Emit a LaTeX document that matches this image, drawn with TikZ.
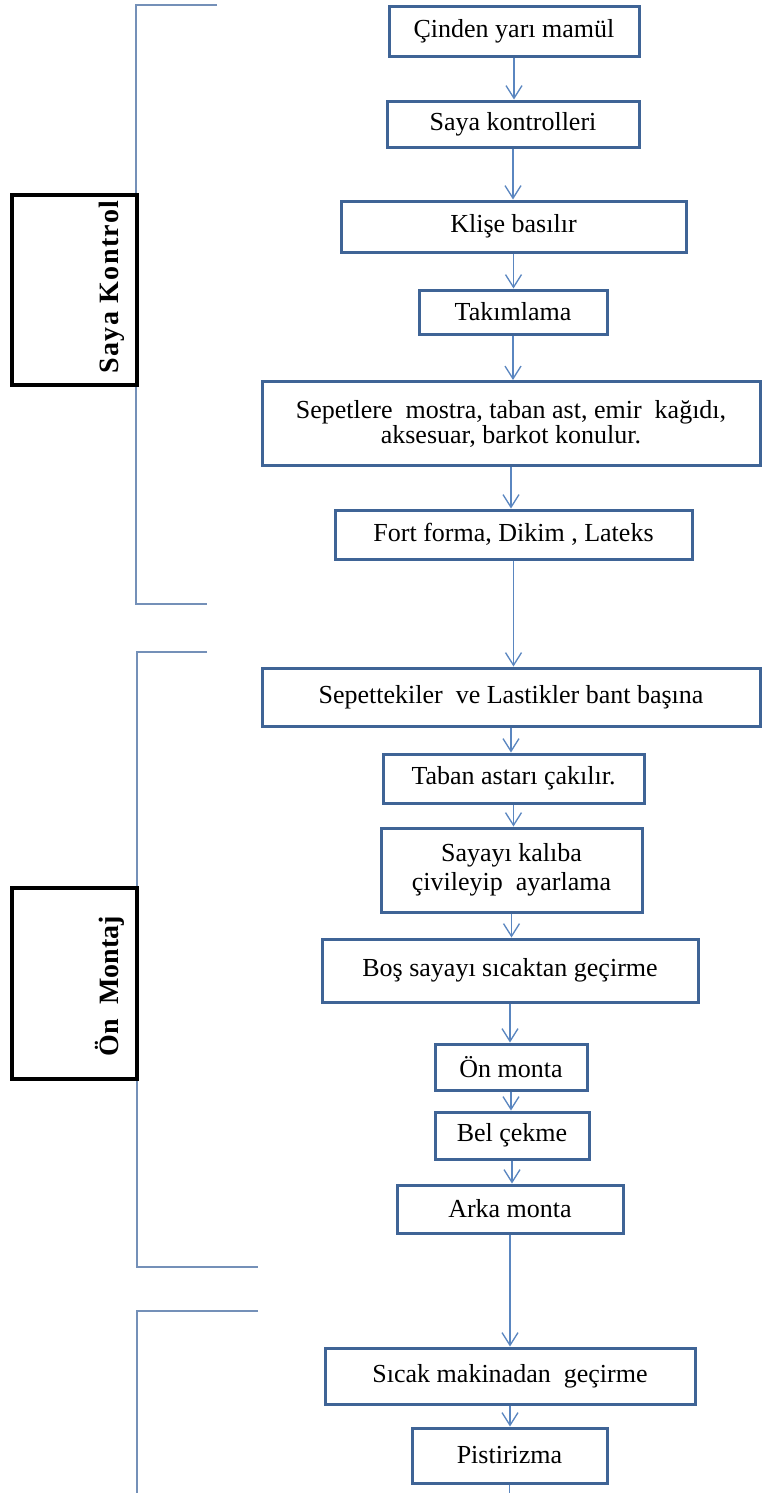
\documentclass[tikz,border=0pt]{standalone}
\usepackage{fontspec}
\setmainfont{Liberation Serif}
\usetikzlibrary{arrows.meta}
\definecolor{boxc}{HTML}{3F6496}
\definecolor{arrc}{HTML}{5A86C0}
\definecolor{brkc}{HTML}{7490B8}
\tikzset{
  proc/.style={draw=boxc, line width=2.25pt, fill=white, inner sep=0pt, align=center,
    font=\fontsize{19.5}{22}\selectfont},
  flow/.style={draw=arrc, line width=1pt, -{Straight Barb[length=9.5pt,width=12pt,line width=1pt]}},
  flowline/.style={draw=arrc, line width=1pt},
  brk/.style={draw=brkc, line width=1.6pt},
  lblbox/.style={draw=black, line width=2.4pt, fill=white, inner sep=0pt,
    minimum width=93.75pt},
  lbltext/.style={rotate=90, inner sep=0pt, font=\fontsize{21}{24}\selectfont\bfseries}
}
\begin{document}
\begin{tikzpicture}[x=0.75pt, y=-0.75pt]
\useasboundingbox (0,0) rectangle (762,1493);

% brackets
\draw[brk] (217,5) -- (136,5) -- (136,604) -- (207,604);
\draw[brk] (207,652) -- (137,652) -- (137,1267) -- (258,1267);
\draw[brk] (258,1311) -- (137,1311) -- (137,1500);

% side label boxes
\node[lblbox, minimum height=142.5pt] (lk1) at (74.5,290) {};
\node[lbltext] (lt1) at (112,287) {\addfontfeature{LetterSpace=5}Saya\ Kontrol};
\node[lblbox, minimum height=143.25pt] (lk2) at (74.5,983.5) {};
\node[lbltext] (lt2) at (110,986) {Ön\ \ Montaj};

% process boxes
\node[proc, minimum width=187.5pt, minimum height=37.5pt] (b1) at (514,31) {Çinden yarı mamül};
\node[proc, minimum width=189pt, minimum height=34.5pt] (b2) at (513,124) {Saya kontrolleri};
\node[proc, minimum width=258.75pt, minimum height=38.25pt] (b3) at (513.5,226.5) {Klişe basılır};
\node[proc, minimum width=141pt, minimum height=33pt] (b4) at (513,312) {Takımlama};
\node[proc, minimum width=373.5pt, minimum height=63pt, font=\fontsize{19.5}{17.5}\selectfont] (b5) at (511,423.5)
  {Sepetlere\ \ mostra, taban ast, emir\ \ kağıdı,\\ aksesuar, barkot konulur.};
\node[proc, minimum width=267.75pt, minimum height=36.75pt] (b6) at (513.5,534.5) {Fort forma, Dikim , Lateks};
\node[proc, minimum width=373.5pt, minimum height=43.5pt] (b7) at (511,697) {Sepettekiler\ \ ve Lastikler bant başına};
\node[proc, minimum width=195.75pt, minimum height=36.75pt] (b8) at (513.5,778.5) {Taban astarı çakılır.};
\node[proc, minimum width=195.75pt, minimum height=63pt] (b9) at (511.5,870) {Sayayı kalıba\\ çivileyip\ \ ayarlama};
\node[proc, minimum width=282pt, minimum height=47.25pt] (b10) at (510,970.5) {Boş sayayı sıcaktan geçirme};
\node[proc, minimum width=114pt, minimum height=34.5pt] (b11) at (511,1067) {Ön monta};
\node[proc, minimum width=115.5pt, minimum height=35.25pt] (b12) at (512,1135.5) {Bel çekme};
\node[proc, minimum width=169.5pt, minimum height=36pt] (b13) at (510,1209) {Arka monta};
\node[proc, minimum width=277.5pt, minimum height=42pt] (b14) at (510,1376) {Sıcak makinadan\ \ geçirme};
\node[proc, minimum width=146.25pt, minimum height=41.25pt] (b15) at (509.5,1455.5) {Pistirizma};
\coordinate (bottomend) at (509.5,1500);

% connectors
\foreach \a/\b in {b1/b2, b2/b3, b3/b4, b4/b5, b5/b6, b6/b7, b7/b8, b8/b9, b9/b10, b10/b11, b11/b12, b12/b13, b13/b14, b14/b15}
  \draw[flow] (\a.south) -- (\a.south |- \b.north);
\draw[flowline] (b15.south) -- (b15.south |- bottomend);
\end{tikzpicture}
\end{document}
